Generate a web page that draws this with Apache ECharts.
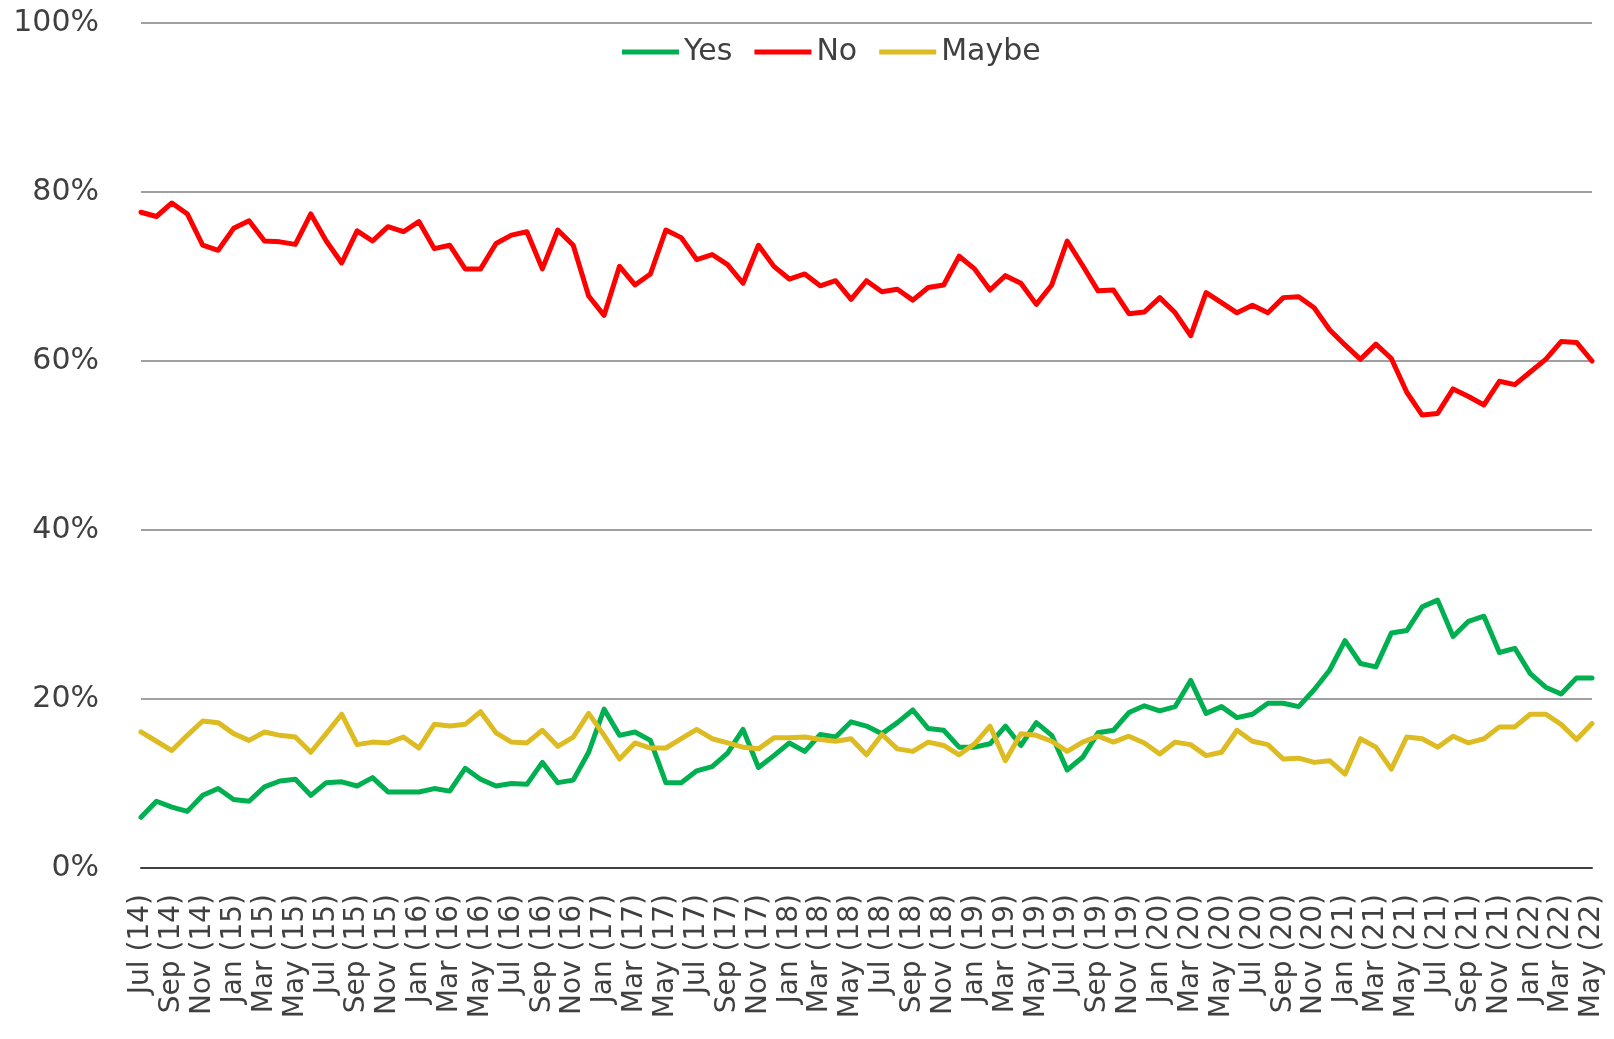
<!DOCTYPE html>
<html>
<head>
<meta charset="utf-8">
<script src="https://cdn.jsdelivr.net/npm/echarts@6/dist/echarts.min.js"></script>
<style>
  html, body { margin: 0; padding: 0; background: #fff; }
  #chart_example { width: 1614px; height: 1039px; }
</style>
</head>
<body>
<div id="chart_example"></div>
<script>
// monthly, Jul 2014 .. May 2022
var monthNames = ["Jan", "Feb", "Mar", "Apr", "May", "Jun", "Jul", "Aug", "Sep", "Oct", "Nov", "Dec"];
var categories = [];
for (var k = 0; k < 95; k++) {
  var m = (6 + k) % 12;
  var y = 14 + Math.floor((6 + k) / 12);
  categories.push(monthNames[m] + " (" + y + ")");
}

var yesData = [
  6.0, 7.9, 7.2, 6.7, 8.6, 9.4, 8.1, 7.9, 9.6, 10.3,
  10.5, 8.6, 10.1, 10.2, 9.7, 10.7, 9.0, 9.0, 9.0, 9.4,
  9.1, 11.8, 10.5, 9.7, 10.0, 9.9, 12.5, 10.1, 10.4, 13.7,
  18.8, 15.7, 16.1, 15.1, 10.1, 10.1, 11.5, 12.0, 13.6, 16.4,
  11.9, 13.3, 14.8, 13.8, 15.8, 15.5, 17.3, 16.8, 15.9, 17.2,
  18.7, 16.5, 16.3, 14.3, 14.3, 14.7, 16.8, 14.5, 17.2, 15.7,
  11.6, 13.1, 16.0, 16.3, 18.4, 19.2, 18.6, 19.1, 22.2, 18.3,
  19.1, 17.8, 18.2, 19.5, 19.5, 19.1, 21.1, 23.4, 26.9, 24.2,
  23.8, 27.8, 28.1, 30.9, 31.7, 27.4, 29.2, 29.8, 25.5, 26.0,
  23.0, 21.4, 20.6, 22.5, 22.5
];

var noData = [
  77.6, 77.1, 78.7, 77.4, 73.7, 73.1, 75.7, 76.6, 74.2, 74.1,
  73.8, 77.4, 74.2, 71.6, 75.4, 74.2, 75.9, 75.3, 76.5, 73.3,
  73.7, 70.9, 70.9, 73.9, 74.9, 75.3, 70.9, 75.5, 73.7, 67.7,
  65.4, 71.2, 69.0, 70.3, 75.5, 74.6, 72.0, 72.6, 71.4, 69.2,
  73.7, 71.2, 69.7, 70.3, 68.9, 69.5, 67.3, 69.5, 68.2, 68.5,
  67.2, 68.7, 69.0, 72.4, 70.9, 68.4, 70.1, 69.2, 66.7, 69.0,
  74.2, 71.3, 68.3, 68.4, 65.6, 65.8, 67.5, 65.7, 63.0, 68.1,
  66.9, 65.7, 66.6, 65.7, 67.5, 67.6, 66.3, 63.7, 61.9, 60.2,
  62.0, 60.3, 56.3, 53.6, 53.8, 56.7, 55.8, 54.8, 57.6, 57.2,
  58.7, 60.2, 62.3, 62.2, 60.0
];

var maybeData = [
  16.1, 15.0, 13.9, 15.7, 17.4, 17.2, 15.9, 15.1, 16.1, 15.7,
  15.5, 13.7, 15.9, 18.2, 14.6, 14.9, 14.8, 15.5, 14.2, 17.0,
  16.8, 17.0, 18.5, 16.0, 14.9, 14.8, 16.3, 14.4, 15.5, 18.3,
  15.7, 12.9, 14.8, 14.2, 14.2, 15.3, 16.4, 15.3, 14.8, 14.3,
  14.1, 15.4, 15.4, 15.5, 15.2, 15.0, 15.3, 13.4, 15.8, 14.1,
  13.8, 14.9, 14.5, 13.4, 14.7, 16.8, 12.7, 15.9, 15.7, 15.0,
  13.8, 14.9, 15.6, 14.9, 15.6, 14.8, 13.5, 14.9, 14.6, 13.3,
  13.7, 16.3, 15.0, 14.6, 12.9, 13.0, 12.5, 12.7, 11.1, 15.3,
  14.3, 11.7, 15.5, 15.3, 14.3, 15.6, 14.8, 15.3, 16.7, 16.7,
  18.2, 18.2, 17.0, 15.2, 17.1
];

var seriesNames = ["Yes", "No", "Maybe"];
var seriesColors = ["#00B050", "#FF0000", "#DDBB22"];
var seriesData = [yesData, noData, maybeData];

var myChart = echarts.init(document.getElementById("chart_example"));
var font = "DejaVu Sans";

var option = {
  animation: false,
  grid: {
    left: 141,
    right: 22,
    top: 23,
    bottom: 171,
  },
  legend: {
    top: 32,
    left: 617,
    icon: "rect",
    itemWidth: 57,
    itemHeight: 5,
    itemGap: 22,
    textStyle: {
      fontFamily: font,
      fontSize: 30,
      color: "#404040",
    },
    data: seriesNames,
  },
  xAxis: {
    type: "category",
    boundaryGap: false,
    data: categories,
    axisLine: {
      lineStyle: { color: "#404040", width: 2 },
    },
    axisTick: { show: false },
    axisLabel: {
      interval: 1,
      rotate: 90,
      margin: 26,
      fontFamily: font,
      fontSize: 28,
      color: "#404040",
    },
  },
  yAxis: {
    type: "value",
    min: 0,
    max: 100,
    interval: 20,
    axisLine: { show: false },
    axisTick: { show: false },
    splitLine: {
      lineStyle: { color: "#A0A0A0", width: 2 },
    },
    axisLabel: {
      formatter: "{value}%",
      margin: 42,
      fontFamily: font,
      fontSize: 30,
      color: "#404040",
    },
  },
  series: seriesNames.map(function (name, i) {
    return {
      name: name,
      type: "line",
      data: seriesData[i],
      symbol: "none",
      itemStyle: { color: seriesColors[i] },
      lineStyle: {
        color: seriesColors[i],
        width: 5,
        cap: "round",
        join: "round",
      },
    };
  }),
};

myChart.setOption(option);
</script>
</body>
</html>
